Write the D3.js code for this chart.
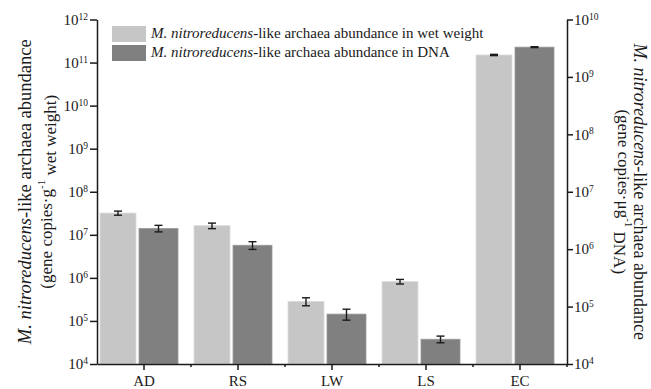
<!DOCTYPE html>
<html>
<head>
<meta charset="utf-8">
<script src="https://cdn.jsdelivr.net/npm/d3@7"></script>
<style>
html,body{margin:0;padding:0;background:#fff;}
svg{display:block;}
text{font-family:"Liberation Serif","Times New Roman",serif;fill:#1a1a1a;}
</style>
</head>
<body>
<svg id="chart" width="651" height="389"></svg>
<script>
// ---- data ----
const categories = ["AD", "RS", "LW", "LS", "EC"];
const wetWeightValues = [3.2e7, 1.63e7, 2.85e5, 8.2e5, 1.5e11];
const wetWeightErrors = [3.5e6, 2.4e6, 6.0e4, 1.0e5, 5.0e9];
const dnaValues = [2.3e6, 1.17e6, 7.4e4, 2.7e4, 3.3e9];
const dnaErrors = [3.0e5, 1.8e5, 1.6e4, 3.6e3, 6.0e7];
const leftTicks = [1e4, 1e5, 1e6, 1e7, 1e8, 1e9, 1e10, 1e11, 1e12];
const rightTicks = [1e4, 1e5, 1e6, 1e7, 1e8, 1e9, 1e10];
const seriesNames = ["wet weight", "DNA"];

// ---- layout ----
const svg = d3.select("#chart");
const L = 97, R = 567, T = 19.5, B = 364;
const lightColor = "#c6c6c6", darkColor = "#808080", inkColor = "#1a1a1a";

const x = d3.scaleBand().domain(categories).range([L, R]).padding(0);
const yL = d3.scaleLog().domain([1e4, 1e12]).range([B, T]);
const yR = d3.scaleLog().domain([1e4, 1e10]).range([B, T]);

const lightOffset = 3, lightWidth = 36, darkOffset = 42, darkWidth = 39;

function supFormat(sel, expSize) {
  sel.selectAll(".tick text").each(function(d) {
    const t = d3.select(this);
    t.text(null);
    t.append("tspan").text("10");
    t.append("tspan").attr("dy", "-0.55em").attr("font-size", expSize).text(Math.round(Math.log10(d)));
  });
}

const wet = categories.map((c, i) => ({c, v: wetWeightValues[i], e: wetWeightErrors[i]}));
const dna = categories.map((c, i) => ({c, v: dnaValues[i], e: dnaErrors[i]}));

svg.append("g").selectAll("rect").data(wet).join("rect")
  .attr("x", d => x(d.c) + lightOffset)
  .attr("width", lightWidth)
  .attr("y", d => yL(d.v))
  .attr("height", d => B - yL(d.v))
  .attr("fill", lightColor)
  .attr("stroke", "#dcdcdc").attr("stroke-width", 0.8);

svg.append("g").selectAll("rect").data(dna).join("rect")
  .attr("x", d => x(d.c) + darkOffset)
  .attr("width", darkWidth)
  .attr("y", d => yR(d.v))
  .attr("height", d => B - yR(d.v))
  .attr("fill", darkColor)
  .attr("stroke", "#9a9a9a").attr("stroke-width", 0.8);

// error bars
function errorBars(data, scale, off, w) {
  const g = svg.append("g").attr("stroke", inkColor).attr("stroke-width", 1.4).attr("fill", "none");
  data.forEach(d => {
    const cx = x(d.c) + off + w / 2;
    const y1 = scale(d.v + d.e), y2 = scale(d.v - d.e);
    g.append("line").attr("x1", cx).attr("x2", cx).attr("y1", y1).attr("y2", y2);
    g.append("line").attr("x1", cx - 4).attr("x2", cx + 4).attr("y1", y1).attr("y2", y1);
    g.append("line").attr("x1", cx - 4).attr("x2", cx + 4).attr("y1", y2).attr("y2", y2);
  });
}
errorBars(wet, yL, lightOffset, lightWidth);
errorBars(dna, yR, darkOffset, darkWidth);

// axes
const axL = svg.append("g").attr("transform", `translate(${L},0)`)
  .call(d3.axisLeft(yL).tickValues(leftTicks).tickSize(7).tickPadding(2).tickSizeOuter(0));
const axR = svg.append("g").attr("transform", `translate(${R},0)`)
  .call(d3.axisRight(yR).tickValues(rightTicks).tickSize(6).tickPadding(1).tickSizeOuter(0));
const axB = svg.append("g").attr("transform", `translate(0,${B})`)
  .call(d3.axisBottom(x).tickSize(6).tickPadding(5).tickSizeOuter(0));

[axL, axR, axB].forEach(a => {
  a.selectAll("path, line").attr("stroke", inkColor).attr("stroke-width", 1.5);
  a.selectAll("text").attr("font-size", "15px").attr("fill", inkColor)
    .attr("font-family", "'Liberation Serif', serif");
});
supFormat(axL, "9.5px");
supFormat(axR, "9.5px");

// minor ticks at category boundaries
svg.append("g").selectAll("line").data(categories.slice(1).concat(["__end"])).join("line")
  .attr("x1", d => d === "__end" ? R : x(d)).attr("x2", d => d === "__end" ? R : x(d))
  .attr("y1", B).attr("y2", B + 3)
  .attr("stroke", inkColor).attr("stroke-width", 1.5);

// legend
const legend = svg.append("g");
[lightColor, darkColor].forEach((col, i) => {
  legend.append("rect").attr("x", 112).attr("y", 26 + i * 19).attr("width", 34).attr("height", 16)
    .attr("fill", col);
  const t = legend.append("text").attr("x", 151).attr("y", 38 + i * 19).attr("font-size", "15px");
  t.append("tspan").attr("font-style", "italic").text("M. nitroreducens");
  t.append("tspan").text("-like archaea abundance in " + seriesNames[i]);
});

// left title
const lt = svg.append("g").attr("transform", `translate(0,${(T + B) / 2}) rotate(-90)`);
const lt1 = lt.append("text").attr("x", 0).attr("y", 31).attr("text-anchor", "middle").attr("font-size", "18.5px");
lt1.append("tspan").attr("font-style", "italic").text("M. nitroreducens");
lt1.append("tspan").text("-like archaea abundance");
const lt2 = lt.append("text").attr("x", 0).attr("y", 52).attr("text-anchor", "middle").attr("font-size", "17px");
lt2.append("tspan").text("(gene copies·g");
lt2.append("tspan").attr("dy", "-0.6em").attr("font-size", "11px").text("-1");
lt2.append("tspan").attr("dy", "0.6em").text(" wet weight)");

// right title
const rt = svg.append("g").attr("transform", `translate(651,${(T + B) / 2}) rotate(90)`);
const rt1 = rt.append("text").attr("x", 0).attr("y", 17.5).attr("text-anchor", "middle").attr("font-size", "18px");
rt1.append("tspan").attr("font-style", "italic").text("M. nitroreducens");
rt1.append("tspan").text("-like archaea abundance");
const rt2 = rt.append("text").attr("x", 0).attr("y", 33).attr("text-anchor", "middle").attr("font-size", "17px");
rt2.append("tspan").text("(gene copies·μg");
rt2.append("tspan").attr("dy", "-0.6em").attr("font-size", "11px").text("-1");
rt2.append("tspan").attr("dy", "0.6em").text(" DNA)");
</script>
</body>
</html>
